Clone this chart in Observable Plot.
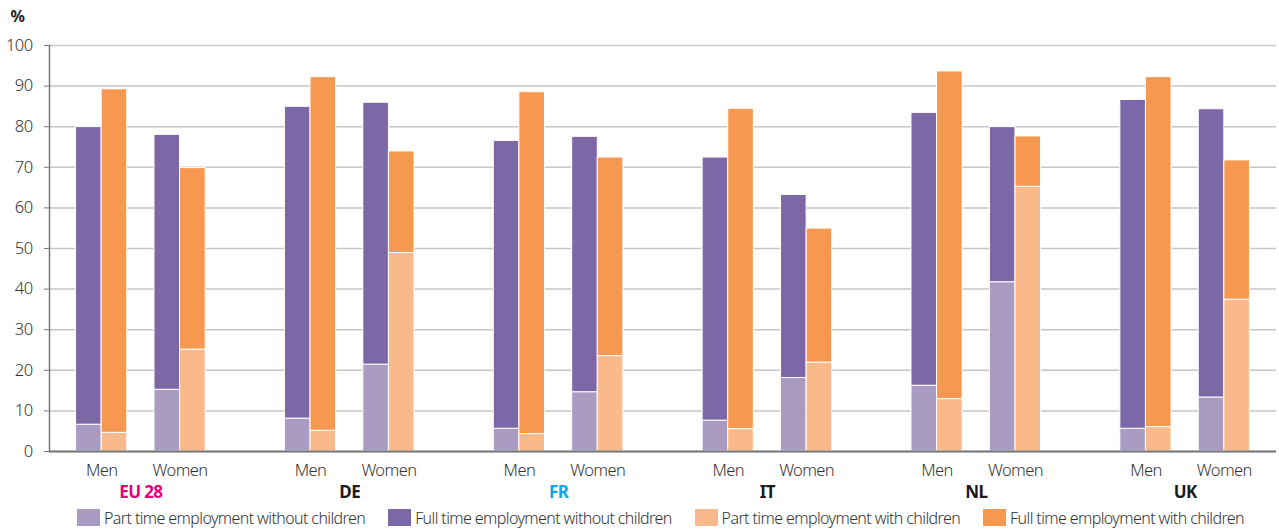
<!DOCTYPE html>
<html><head><meta charset="utf-8">
<script src="https://cdn.jsdelivr.net/npm/d3@7"></script>
<script src="https://cdn.jsdelivr.net/npm/@observablehq/plot@0.6"></script>
<style>
html,body{margin:0;padding:0;background:#fff;}
body{font-family:"Noto Sans","DejaVu Sans Condensed",sans-serif;font-weight:300;}
#legend{display:flex;align-items:center;padding-left:77px;height:27px;font-size:16px;letter-spacing:-0.6px;color:#333;position:relative;top:1px;}
.item{display:flex;align-items:center;margin-right:23px;white-space:nowrap;}
.sw{width:23px;height:17px;margin-right:4px;flex:none;}
</style></head>
<body><div id="chart"></div><div id="legend"></div>
<script>
// ---- data ----
const countries = ["EU 28", "DE", "FR", "IT", "NL", "UK"];
const sexes = ["Men", "Women"];
const seriesNames = [
  "Part time employment without children",
  "Full time employment without children",
  "Part time employment with children",
  "Full time employment with children"
];
const yTicks = [0, 10, 20, 30, 40, 50, 60, 70, 80, 90, 100];

const menPartNoChild   = [6.6, 8.1, 5.6, 7.6, 16.2, 5.6];
const menFullNoChild   = [73.3, 76.8, 70.9, 64.8, 67.2, 81.0];
const menPartChild     = [4.6, 5.1, 4.3, 5.5, 12.9, 6.0];
const menFullChild     = [84.6, 87.1, 84.2, 78.9, 80.7, 86.2];
const womenPartNoChild = [15.2, 21.4, 14.6, 18.1, 41.7, 13.3];
const womenFullNoChild = [62.8, 64.5, 62.9, 45.1, 38.2, 71.0];
const womenPartChild   = [25.1, 48.9, 23.5, 21.9, 65.2, 37.4];
const womenFullChild   = [44.7, 25.0, 48.9, 33.0, 12.4, 34.3];

// ---- styles ----
const seriesColors = ["#a99bc2", "#7c68a6", "#f9b98a", "#f69850"];
const labelColor = {"EU 28": "#e5007d", "DE": "#1a1a1a", "FR": "#12a3e3", "IT": "#1a1a1a", "NL": "#1a1a1a", "UK": "#1a1a1a"};

// ---- table ----
const table = [];
countries.forEach((c, i) => {
  [["Men", "without", seriesNames[0], menPartNoChild[i]],
   ["Men", "without", seriesNames[1], menFullNoChild[i]],
   ["Men", "with", seriesNames[2], menPartChild[i]],
   ["Men", "with", seriesNames[3], menFullChild[i]],
   ["Women", "without", seriesNames[0], womenPartNoChild[i]],
   ["Women", "without", seriesNames[1], womenFullNoChild[i]],
   ["Women", "with", seriesNames[2], womenPartChild[i]],
   ["Women", "with", seriesNames[3], womenFullChild[i]]
  ].forEach(([sex, child, series, value]) => table.push({country: c, sex, child, series, value}));
});

// ---- layout ----
const W = 1279, H = 503, ML = 49, MR = 3, MT = 45, MB = 52;
const padOuter = -0.0625;
const bw = (W - ML - MR) / (countries.length + 2 * padOuter);
const barW = 25.6, pairOff = 39.2;
const FONT = '"Noto Sans","DejaVu Sans Condensed",sans-serif';

function barMark(sex, child) {
  const center = sex === "Men" ? -pairOff : pairOff;
  const left = child === "without" ? center - barW : center;
  const right = left + barW;
  return Plot.barY(table.filter(d => d.sex === sex && d.child === child), {
    x: "country", y: "value", fill: "series",
    insetLeft: bw / 2 + left, insetRight: bw / 2 - right,
    stroke: "#fff", strokeWidth: 1
  });
}

const marks = [
  Plot.ruleY(yTicks, {stroke: "#c6c6c6", strokeWidth: 1.5}),
  ...sexes.flatMap(s => ["without", "with"].map(ch => barMark(s, ch))),
  Plot.ruleY([0], {stroke: "#777", strokeWidth: 2}),
  Plot.frame({anchor: "left", stroke: "#777", strokeWidth: 1.5}),
  Plot.axisY(yTicks, {tickSize: 5, tickPadding: 12, fontSize: 16.5, stroke: "#777", fill: "#333", label: null}),
  Plot.text(["%"], {frameAnchor: "top-left", dx: -39, dy: -35, textAnchor: "start", fontWeight: "bold", fontSize: 16, fill: "#222", text: d => d}),
  Plot.text(countries, {x: d => d, frameAnchor: "bottom", dy: 24, dx: -pairOff, text: () => sexes[0], fontSize: 16.5, fill: "#333"}),
  Plot.text(countries, {x: d => d, frameAnchor: "bottom", dy: 24, dx: pairOff, text: () => sexes[1], fontSize: 16.5, fill: "#333"}),
  ...countries.map(c => Plot.text([c], {x: d => d, frameAnchor: "bottom", dy: 46, text: d => d, fontWeight: "bold", fontSize: 17, fill: labelColor[c]}))
];

const chart = Plot.plot({
  width: W, height: H,
  marginLeft: ML, marginRight: MR, marginTop: MT, marginBottom: MB,
  style: {fontFamily: FONT, fontWeight: 300, letterSpacing: "-0.6px", background: "#fff"},
  x: {type: "band", domain: countries, paddingInner: 0, paddingOuter: padOuter, round: false, axis: null},
  y: {domain: [0, 100], axis: null},
  color: {domain: seriesNames, range: seriesColors},
  marks
});
document.getElementById("chart").appendChild(chart);

// ---- legend ----
const legend = document.getElementById("legend");
seriesNames.forEach((name, i) => {
  const item = document.createElement("div");
  item.className = "item";
  const sw = document.createElement("span");
  sw.className = "sw";
  sw.style.background = seriesColors[i];
  const t = document.createElement("span");
  t.textContent = name;
  item.appendChild(sw); item.appendChild(t);
  legend.appendChild(item);
});
</script></body></html>
